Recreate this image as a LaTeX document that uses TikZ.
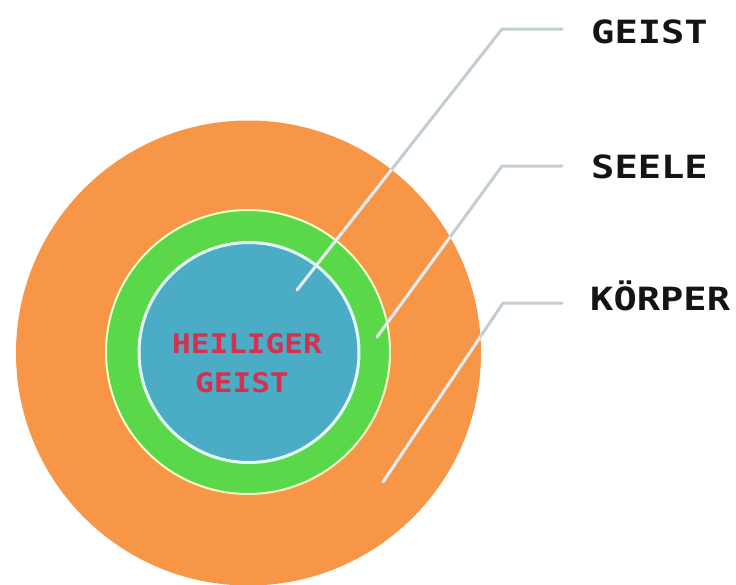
\documentclass[tikz,border=0pt]{standalone}
\usepackage{fontspec}
\newfontfamily\rlabfont[FakeStretch=1.21]{DejaVu Sans Mono Bold}
\newfontfamily\ilabfont[FakeStretch=1.15]{DejaVu Sans Mono Bold}
\definecolor{corange}{HTML}{F79646}
\definecolor{cgreen}{HTML}{5AD84A}
\definecolor{cblue}{HTML}{4BACC6}
\definecolor{cred}{HTML}{D6304E}
\definecolor{cline}{HTML}{C2CED2}
\definecolor{ctext}{HTML}{141414}
\definecolor{cring}{HTML}{F0FFC8}
\definecolor{cring2}{HTML}{E6FFF6}
\tikzset{
  rlabel/.style={anchor=base west, inner sep=0pt, text=ctext, font=\rlabfont\fontsize{32}{36}\selectfont},
  ilabel/.style={anchor=base west, inner sep=0pt, text=cred, font=\ilabfont\fontsize{27}{30}\selectfont},
  leader/.style={draw=cline, line width=3pt, line cap=round, line join=round},
  leaderin/.style={draw=white, opacity=0.6, line width=3pt, line cap=round, line join=round}
}
\begin{document}
\begin{tikzpicture}[x=1pt,y=-1pt]
\useasboundingbox (0,0) rectangle (736,584);
\fill[white] (0,0) rectangle (736,584);
% circles
\fill[corange] (248.5,353) circle[radius=232.5];
\draw[cring, line width=2pt, fill=cgreen] (248,352) circle[radius=142];
\draw[cring2, line width=3pt, fill=cblue] (249,352.5) circle[radius=110];
% inner text
\node[ilabel] (hg1) at (172,353) {HEILIGER};
\node[ilabel] (hg2) at (195,392) {GEIST};
% labels
\node[rlabel] (geist) at (591,43) {GEIST};
\node[rlabel] (seele) at (591,178) {SEELE};
\node[rlabel] (koerper) at (590,310) {KÖRPER};
% leader coordinates
\coordinate (g0) at (562,29);
\coordinate (g1) at (502,29);
\coordinate (g2) at (297,290);
\coordinate (s0) at (562,166);
\coordinate (s1) at (502,166);
\coordinate (s2) at (377,337);
\coordinate (k0) at (562,303);
\coordinate (k1) at (503,303);
\coordinate (k2) at (383,482);
\path[leader] (g0) -- (g1) -- (g2);
\path[leader] (s0) -- (s1) -- (s2);
\path[leader] (k0) -- (k1) -- (k2);
\begin{scope}
\clip (248.5,353) circle[radius=232.5];
\path[leaderin] (g0) -- (g1) -- (g2);
\path[leaderin] (s0) -- (s1) -- (s2);
\path[leaderin] (k0) -- (k1) -- (k2);
\end{scope}
\end{tikzpicture}
\end{document}
